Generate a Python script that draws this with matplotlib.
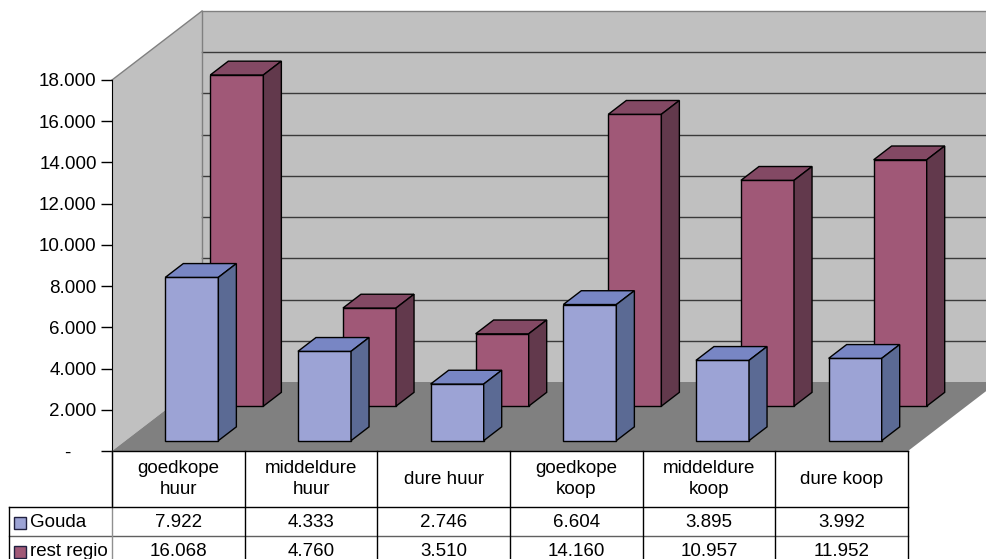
import matplotlib
matplotlib.use("Agg")
import matplotlib.pyplot as plt
from matplotlib.patches import Polygon, Rectangle
from matplotlib.transforms import ScaledTranslation

# ---------------------------------------------------------------- data
categories = ["goedkope\nhuur", "middeldure\nhuur", "dure huur",
              "goedkope\nkoop", "middeldure\nkoop", "dure koop"]
series = ["Gouda", "rest regio"]
gouda = [7922, 4333, 2746, 6604, 3895, 3992]
rest_regio = [16068, 4760, 3510, 14160, 10957, 11952]
yticks = [0, 2000, 4000, 6000, 8000, 10000, 12000, 14000, 16000, 18000]

# ---------------------------------------------------------------- style
front = {"Gouda": "#9CA3D5", "rest regio": "#A05877"}
top = {"Gouda": "#7886C4", "rest regio": "#834964"}
side = {"Gouda": "#5B6A94", "rest regio": "#62394C"}
WALL, FLOOR, EDGE = "#C0C0C0", "#808080", "#808080"

plt.rcParams["font.family"] = ["Liberation Sans", "DejaVu Sans"]
FS = 13.5

W, H = 986, 559
X0, X1 = 112, 908          # front plane, px
Y0, YT = 451, 80           # value 0 and 18000, px
DPX, DPY = 90, 69          # depth offset, px
ncat = len(categories)
cw = (X1 - X0) / ncat
vmax = yticks[-1]
DX = DPX / cw                       # depth offset in category units
DY = DPY * vmax / (Y0 - YT)         # depth offset in value units

fig = plt.figure(figsize=(W / 100, H / 100), dpi=100)
ax = fig.add_axes([X0 / W, (H - Y0) / H, (X1 - X0) / W, (Y0 - YT) / H])
ax.set_xlim(-0.5, ncat - 0.5)
ax.set_ylim(0, vmax)
ax.patch.set_visible(False)
for s in ["top", "right", "bottom"]:
    ax.spines[s].set_visible(False)
ax.spines["left"].set_color("black")
ax.spines["left"].set_zorder(6)
ax.set_xticks([])
ax.set_yticks(yticks)
ax.set_yticklabels(["-" if v == 0 else f"{v:,}".replace(",", ".")
                    for v in yticks], fontsize=FS)
ax.tick_params(axis="y", length=8, width=1, pad=3)
# accounting style: the dash for zero sits left of the digits
lbl0 = ax.get_yticklabels()[0]
lbl0.set_transform(lbl0.get_transform()
                   + ScaledTranslation(-0.26, 0, fig.dpi_scale_trans))


def P(x, v, z):
    return (x + z * DX, v + z * DY)


def poly(pts, fc, ec, lw=1.0, z=2):
    ax.add_patch(Polygon(pts, closed=True, facecolor=fc, edgecolor=ec,
                         lw=lw, zorder=z, clip_on=False))


xl, xr = -0.5, ncat - 0.5
# walls and floor
poly([P(xl, 0, 0), P(xl, vmax, 0), P(xl, vmax, 1), P(xl, 0, 1)], WALL, "none", z=1)
poly([P(xl, 0, 1), P(xl, vmax, 1), P(xr, vmax, 1), P(xr, 0, 1)], WALL, "none", z=1)
poly([P(xl, 0, 0), P(xr, 0, 0), P(xr, 0, 1), P(xl, 0, 1)], FLOOR, "none", z=1)
for v in yticks[1:-1]:
    ax.plot(*zip(P(xl, v, 1), P(xr, v, 1)), color="#3a3a3a", lw=1,
            zorder=1.5, clip_on=False)
for a, b in [(P(xl, vmax, 0), P(xl, vmax, 1)), (P(xl, vmax, 1), P(xr, vmax, 1)),
             (P(xl, 0, 1), P(xl, vmax, 1))]:
    ax.plot(*zip(a, b), color=EDGE, lw=1, zorder=1.5, clip_on=False)

# bars: back row first
depth = {"Gouda": 0.25, "rest regio": 0.75}
values = {"Gouda": gouda, "rest regio": rest_regio}
hw, hd = 0.2, 0.1
for name in ["rest regio", "Gouda"]:
    z0, z1 = depth[name] - hd, depth[name] + hd
    for i, v in enumerate(values[name]):
        a, b = i - hw, i + hw
        poly([P(a, 0, z0), P(b, 0, z0), P(b, v, z0), P(a, v, z0)], front[name], "black", z=3)
        poly([P(a, v, z0), P(b, v, z0), P(b, v, z1), P(a, v, z1)], top[name], "black", z=3)
        poly([P(b, 0, z0), P(b, 0, z1), P(b, v, z1), P(b, v, z0)], side[name], "black", z=3)

# ---------------------------------------------------------------- table
tax = fig.add_axes([0, 0, 1, 1], zorder=5)
tax.set_xlim(0, W)
tax.set_ylim(H, 0)
tax.axis("off")
R0, R1, R2, R3 = Y0, 507, 536, 565
XL = 9
edges = [X0 + i * cw for i in range(ncat + 1)]
tax.plot([X0, X1], [R0, R0], color="black", lw=1)
for y, c in [(R1, "black"), (R2, "#606060"), (R3, "black")]:
    tax.plot([XL, X1], [y, y], color=c, lw=1)
for i, x in enumerate(edges):
    tax.plot([x, x], [R0, R3], color="#909090" if i == 0 else "black", lw=1)
tax.plot([X0, X0], [R0, R1], color="black", lw=1)
tax.plot([XL, XL], [R1, R3], color="black", lw=1)

for i, cat in enumerate(categories):
    xc = (edges[i] + edges[i + 1]) / 2
    tax.text(xc, (R0 + R1) / 2, cat, ha="center", va="center",
             fontsize=FS, linespacing=1.3)
for (r0, r1), name in zip([(R1, R2), (R2, R3)], series):
    yc = (r0 + r1) / 2 + 1
    tax.add_patch(Rectangle((14, yc - 6), 12, 12, facecolor=front[name],
                            edgecolor="#202040", lw=1))
    tax.text(30, yc, name, ha="left", va="center", fontsize=FS)
    for i, v in enumerate(values[name]):
        xc = (edges[i] + edges[i + 1]) / 2
        tax.text(xc, yc, f"{v:,}".replace(",", "."), ha="center",
                 va="center", fontsize=FS)

fig.savefig("out.png", dpi=100, facecolor="white")
